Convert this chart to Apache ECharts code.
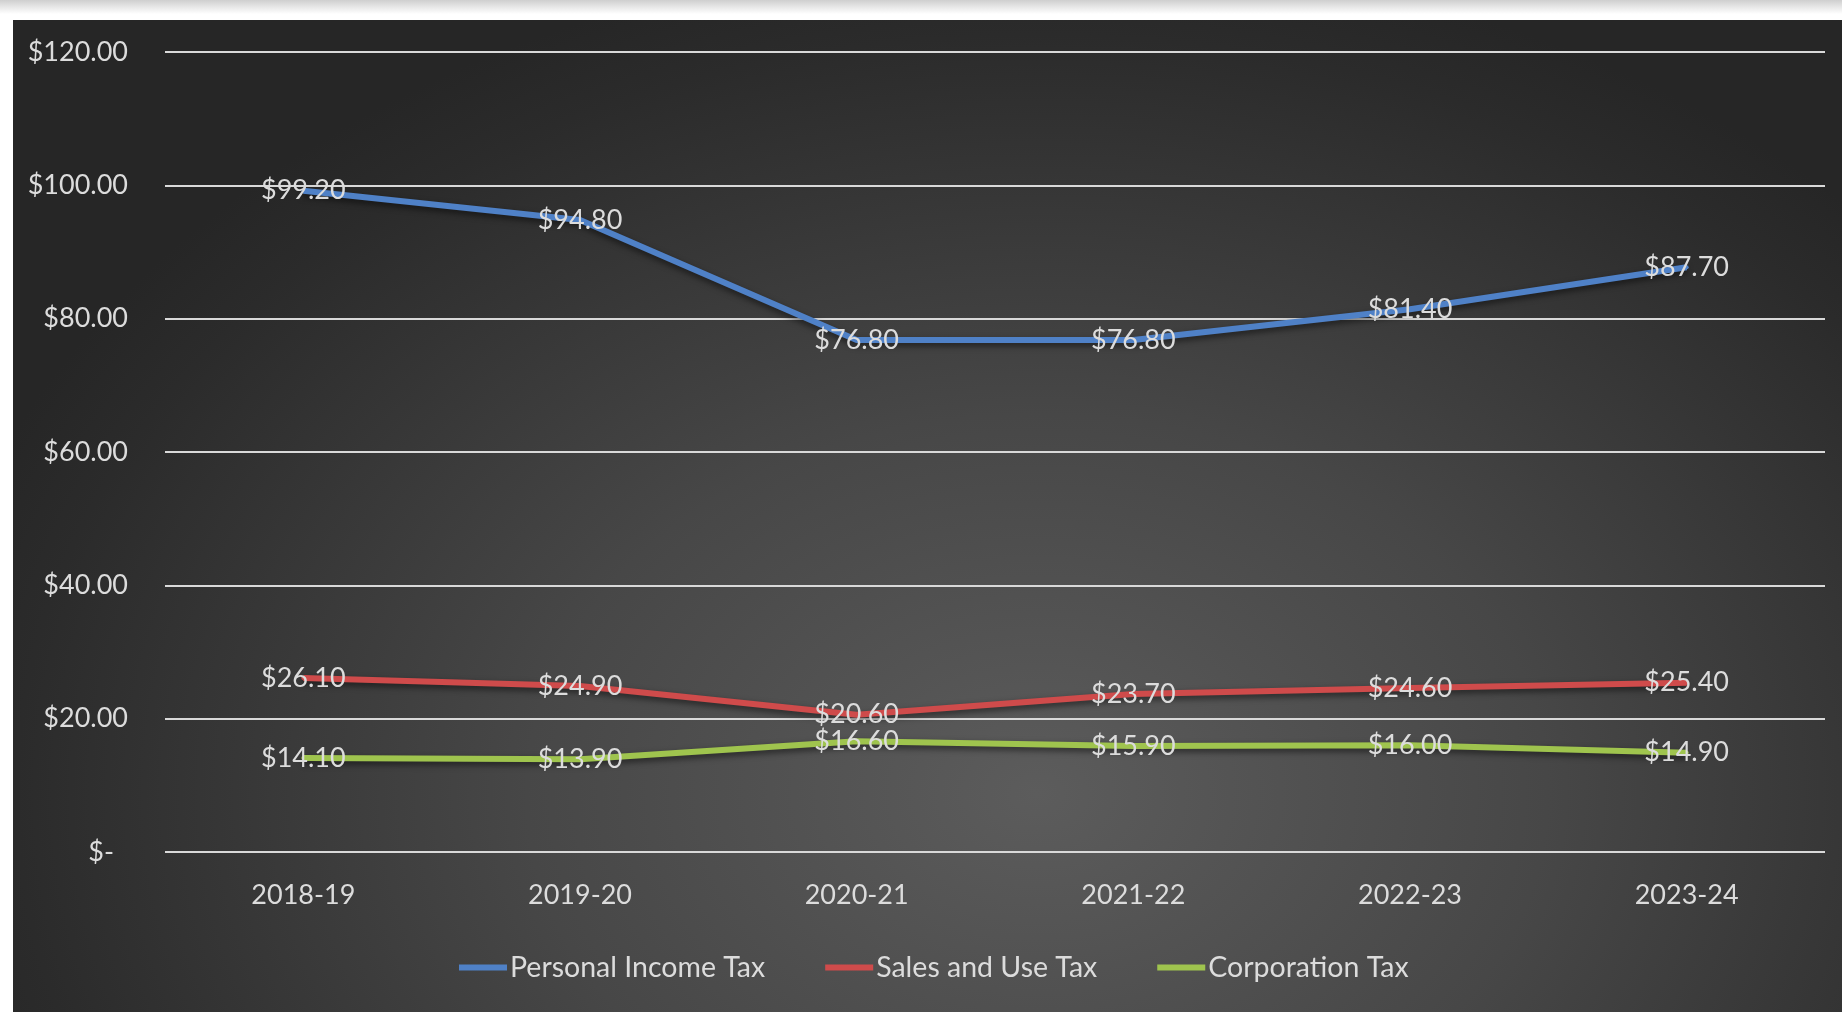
<!DOCTYPE html>
<html>
<head>
<meta charset="utf-8">
<script src="https://cdn.jsdelivr.net/npm/echarts@6/dist/echarts.min.js"></script>
<style>
html,body{margin:0;padding:0;width:1842px;height:1012px;overflow:hidden;background:linear-gradient(to bottom,#cfcfcf 0px,#ffffff 14px,#ffffff 100%);}
#chart{position:absolute;left:13px;top:20px;width:1829px;height:992px;
background:radial-gradient(ellipse 62% 85% at 56% 78%, #5c5c5c 0%, #474747 45%, #2b2b2b 90%, #262626 100%);}
</style>
</head>
<body>
<div id="chart"></div>
<script>
const categories = ['2018-19','2019-20','2020-21','2021-22','2022-23','2023-24'];
const personalIncomeTax = [99.2, 94.8, 76.8, 76.8, 81.4, 87.7];
const salesAndUseTax = [26.1, 24.9, 20.6, 23.7, 24.6, 25.4];
const corporationTax = [14.1, 13.9, 16.6, 15.9, 16.0, 14.9];
const seriesNames = ['Personal Income Tax','Sales and Use Tax','Corporation Tax'];
const yTicks = [0, 20, 40, 60, 80, 100, 120];

const FONT = 'Lato, "Liberation Sans", sans-serif';
const TXT = '#dcdcdc';
const chart = echarts.init(document.getElementById('chart'), null, {renderer:'canvas'});

function money(v){ return '$' + v.toFixed(2); }

function mkSeries(name, data, color){
  return {
    name: name, type: 'line', data: data,
    symbol: 'circle', symbolSize: 4, showSymbol: true, showAllSymbol: true, smooth: false,
    lineStyle: {color: color, width: 6, shadowColor: 'rgba(0,0,0,0.55)', shadowBlur: 6, shadowOffsetY: 3},
    itemStyle: {color: color, borderWidth: 0},
    label: {show: true, position: 'inside', color: TXT, fontFamily: FONT, fontSize: 27,
      formatter: p => money(p.value)},
    emphasis: {disabled: true}
  };
}

chart.setOption({
  backgroundColor: 'transparent',
  animation: false,
  grid: {left: 152, right: 17, top: 32, bottom: 160, containLabel: false},
  legend: {
    data: seriesNames, left: 441, top: 928,
    icon: 'rect', itemWidth: 48, itemHeight: 6, itemGap: 60,
    textStyle: {color: TXT, fontFamily: FONT, fontSize: 28.5, padding: [0,0,0,-2]}
  },
  xAxis: {
    type: 'category', data: categories, boundaryGap: true,
    axisLine: {show: false}, axisTick: {show: false},
    axisLabel: {color: TXT, fontFamily: FONT, fontSize: 27, margin: 30}
  },
  yAxis: {
    type: 'value', min: yTicks[0], max: yTicks[yTicks.length-1], interval: 20,
    axisLine: {show: false}, axisTick: {show: false},
    splitLine: {lineStyle: {color: '#d9d9d9', width: 2}},
    axisLabel: {color: TXT, fontFamily: FONT, fontSize: 27, margin: 37,
      formatter: v => v === 0 ? '{z|$-}' : money(v),
      rich: {z: {color: TXT, fontFamily: FONT, fontSize: 27, padding: [0, 14, 0, 0]}}}
  },
  series: [
    mkSeries(seriesNames[0], personalIncomeTax, '#4f81c7'),
    mkSeries(seriesNames[1], salesAndUseTax, '#cf4b4b'),
    mkSeries(seriesNames[2], corporationTax, '#9fc44e')
  ]
});
</script>
</body>
</html>
